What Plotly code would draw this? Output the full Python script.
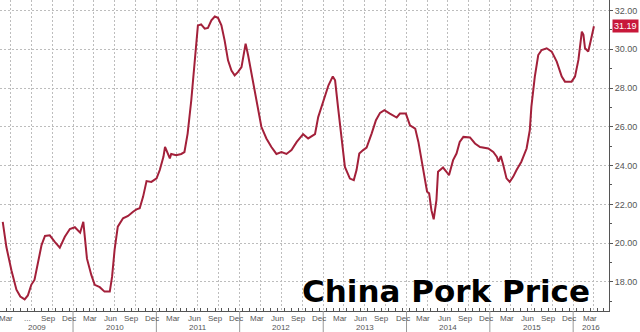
import plotly.graph_objects as go
import pandas as pd

# ---- data ----
dates = [
    "2009-02-27", "2009-03-15", "2009-04-06", "2009-04-28", "2009-05-15", "2009-06-03",
    "2009-06-17", "2009-07-02", "2009-07-16", "2009-08-01", "2009-08-16", "2009-08-31",
    "2009-09-21", "2009-10-13", "2009-11-04", "2009-11-26", "2009-12-18", "2010-01-09",
    "2010-02-01", "2010-02-15", "2010-02-22", "2010-03-03", "2010-03-22", "2010-04-06",
    "2010-04-28", "2010-05-19", "2010-06-11", "2010-06-21", "2010-07-02", "2010-07-16",
    "2010-08-08", "2010-08-30", "2010-09-21", "2010-10-06", "2010-10-20", "2010-11-04",
    "2010-11-19", "2010-12-10", "2011-01-02", "2011-01-16", "2011-02-01", "2011-02-08",
    "2011-03-01", "2011-03-07", "2011-03-29", "2011-04-20", "2011-05-04", "2011-05-18",
    "2011-06-03", "2011-06-17", "2011-07-02", "2011-07-16", "2011-08-01", "2011-08-15",
    "2011-08-30", "2011-09-14", "2011-09-28", "2011-10-13", "2011-10-27", "2011-11-11",
    "2011-11-26", "2011-12-10", "2011-12-25", "2012-01-09", "2012-01-27", "2012-02-07",
    "2012-02-22", "2012-03-14", "2012-04-05", "2012-04-27", "2012-05-19", "2012-06-10",
    "2012-07-02", "2012-07-24", "2012-08-15", "2012-09-07", "2012-10-05", "2012-10-27",
    "2012-11-26", "2012-12-10", "2013-01-02", "2013-01-24", "2013-02-12", "2013-02-22",
    "2013-03-07", "2013-03-22", "2013-04-06", "2013-04-28", "2013-05-15", "2013-05-27",
    "2013-06-08", "2013-06-25", "2013-07-10", "2013-08-01", "2013-08-20", "2013-09-07",
    "2013-09-26", "2013-10-20", "2013-11-19", "2013-12-03", "2013-12-29", "2014-01-16",
    "2014-02-08", "2014-02-22", "2014-03-14", "2014-04-01", "2014-04-10", "2014-04-20",
    "2014-04-30", "2014-05-12", "2014-05-19", "2014-06-10", "2014-06-25", "2014-07-06",
    "2014-07-24", "2014-08-08", "2014-08-22", "2014-09-07", "2014-10-06", "2014-10-28",
    "2014-11-19", "2014-12-25", "2015-01-16", "2015-02-01", "2015-02-08", "2015-02-18",
    "2015-03-01", "2015-03-15", "2015-03-29", "2015-04-13", "2015-04-28", "2015-05-19",
    "2015-06-11", "2015-06-25", "2015-07-02", "2015-07-17", "2015-08-01", "2015-08-16",
    "2015-09-07", "2015-09-29", "2015-10-21", "2015-11-12", "2015-11-26", "2015-12-25",
    "2016-01-09", "2016-01-24", "2016-02-08", "2016-02-15", "2016-02-22", "2016-03-07",
    "2016-03-17", "2016-04-01",
]
prices = [
    21.10, 19.80, 18.60, 17.60, 17.25, 17.10,
    17.30, 17.85, 18.10, 18.96, 19.90, 20.37,
    20.40, 20.07, 19.77, 20.33, 20.73, 20.82,
    20.54, 21.10, 20.40, 19.20, 18.36, 17.85,
    17.73, 17.50, 17.50, 18.27, 19.65, 20.85,
    21.28, 21.40, 21.62, 21.74, 21.80, 22.40,
    23.20, 23.16, 23.34, 23.77, 24.45, 24.96,
    24.37, 24.60, 24.54, 24.60, 24.70, 25.65,
    27.37, 29.43, 31.23, 31.28, 31.06, 31.10,
    31.49, 31.69, 31.62, 31.23, 30.46, 29.43,
    28.90, 28.65, 28.83, 29.08, 30.29, 29.69,
    28.74, 27.37, 26.00, 25.40, 24.96, 24.60,
    24.70, 24.60, 24.80, 25.22, 25.62, 25.40,
    25.62, 26.50, 27.37, 28.14, 28.60, 28.40,
    27.00, 25.48, 23.93, 23.33, 23.25, 23.77,
    24.62, 24.80, 24.93, 25.65, 26.34, 26.72,
    26.86, 26.68, 26.48, 26.68, 26.68, 26.08,
    25.91, 25.22, 23.93, 22.65, 22.57, 21.70,
    21.23, 22.22, 23.68, 23.90, 23.68, 23.50,
    24.28, 24.62, 25.22, 25.48, 25.45, 25.14,
    24.96, 24.88, 24.70, 24.45, 24.20, 24.49,
    24.02, 23.34, 23.16, 23.42, 23.77, 24.20,
    24.88, 25.82, 27.04, 28.59, 29.70, 29.96,
    30.05, 29.88, 29.36, 28.59, 28.33, 28.33,
    28.59, 29.45, 30.91, 30.74, 30.05, 29.88,
    30.39, 31.19,
]
last_value_label = "31.19"
title_text = "China Pork Price"
years = [2009, 2010, 2011, 2012, 2013, 2014, 2015, 2016]
month_names = {3: "Mar", 6: "Jun", 9: "Sep", 12: "Dec"}
elided_ticks = {(2009, 6): "..."}

# ---- styling ----
LINE_COLOR = "#a3203a"
LABEL_RED = "#c8183a"
GRID_COLOR = "#bdbdbd"
GRID_DASH = "2px,2px"
AXIS_COLOR = "#555555"
TEXT_COLOR = "#555555"
FONT = "Liberation Sans"

x_start = pd.Timestamp("2009-02-15")
x_end = pd.Timestamp("2016-06-06")

# month ticks at the middle of each month
months = pd.date_range("2009-02-01", "2016-05-01", freq="MS")
tickvals = [m + pd.Timedelta(days=14) for m in months]

fig = go.Figure()
fig.add_trace(go.Scatter(
    x=pd.to_datetime(dates), y=prices, mode="lines",
    line=dict(color=LINE_COLOR, width=2), hoverinfo="skip", showlegend=False,
))

fig.update_layout(
    width=640, height=332,
    margin=dict(l=0, r=31, t=0, b=21),
    paper_bgcolor="white", plot_bgcolor="white",
    font=dict(family=FONT, size=9, color=TEXT_COLOR),
    showlegend=False,
)

fig.update_xaxes(
    range=[x_start, x_end], type="date",
    tickmode="array", tickvals=tickvals, ticktext=[""] * len(tickvals),
    ticks="inside", ticklen=3, tickcolor=AXIS_COLOR,
    showgrid=False, showline=True, linecolor=AXIS_COLOR, linewidth=1,
    minor=dict(dtick="M3", tick0="2009-01-01", showgrid=True,
               gridcolor=GRID_COLOR, griddash=GRID_DASH, gridwidth=1, ticks=""),
    zeroline=False, fixedrange=True,
)
fig.update_yaxes(
    range=[16.5, 32.54], side="right",
    tick0=0, dtick=2, tickformat=".2f",
    ticks="outside", ticklen=3, tickcolor=AXIS_COLOR,
    showgrid=True, gridcolor=GRID_COLOR, griddash=GRID_DASH, gridwidth=1,
    showline=True, linecolor=AXIS_COLOR, linewidth=1,
    tickfont=dict(family=FONT, size=9, color=TEXT_COLOR),
    minor=dict(dtick=1, tick0=0, ticks="outside", ticklen=2, tickcolor=AXIS_COLOR, showgrid=False),
    zeroline=False, fixedrange=True,
)

# month labels (quarter-end months), placed just under the axis
for m, tv in zip(months, tickvals):
    label = elided_ticks.get((m.year, m.month), month_names.get(m.month))
    if label:
        fig.add_annotation(x=tv, y=0, xref="x", yref="paper", yanchor="middle", yshift=-7,
                           text=label, showarrow=False,
                           font=dict(family=FONT, size=8, color=TEXT_COLOR))

# year labels and separators below the axis
for yr in years:
    s = max(pd.Timestamp(f"{yr}-01-01"), x_start)
    e = min(pd.Timestamp(f"{yr + 1}-01-01"), x_end)
    fig.add_annotation(x=s + (e - s) / 2, y=0, xref="x", yref="paper",
                       yanchor="middle", yshift=-16, text=str(yr), showarrow=False,
                       font=dict(family=FONT, size=8, color=TEXT_COLOR))
    if pd.Timestamp(f"{yr}-01-01") > x_start:
        fig.add_shape(type="line", xref="x", yref="paper",
                      x0=pd.Timestamp(f"{yr}-01-01"), x1=pd.Timestamp(f"{yr}-01-01"),
                      y0=0, y1=-0.07, line=dict(color="#999999", width=1))

# last value tag on the right axis
fig.add_annotation(x=1, y=prices[-1], xref="paper", yref="y", xanchor="left", yanchor="middle",
                   xshift=3, text=last_value_label, showarrow=False, bgcolor=LABEL_RED,
                   borderpad=1, font=dict(family=FONT, size=9, color="white"))

# big title inside the plot
fig.add_annotation(x=0.972, y=0.0, xref="paper", yref="paper", xanchor="right", yanchor="bottom",
                   text=f"<b>{title_text}</b>", showarrow=False,
                   font=dict(family="DejaVu Sans", size=31, color="black"))

fig.write_html("out.html", config={"displayModeBar": False})
